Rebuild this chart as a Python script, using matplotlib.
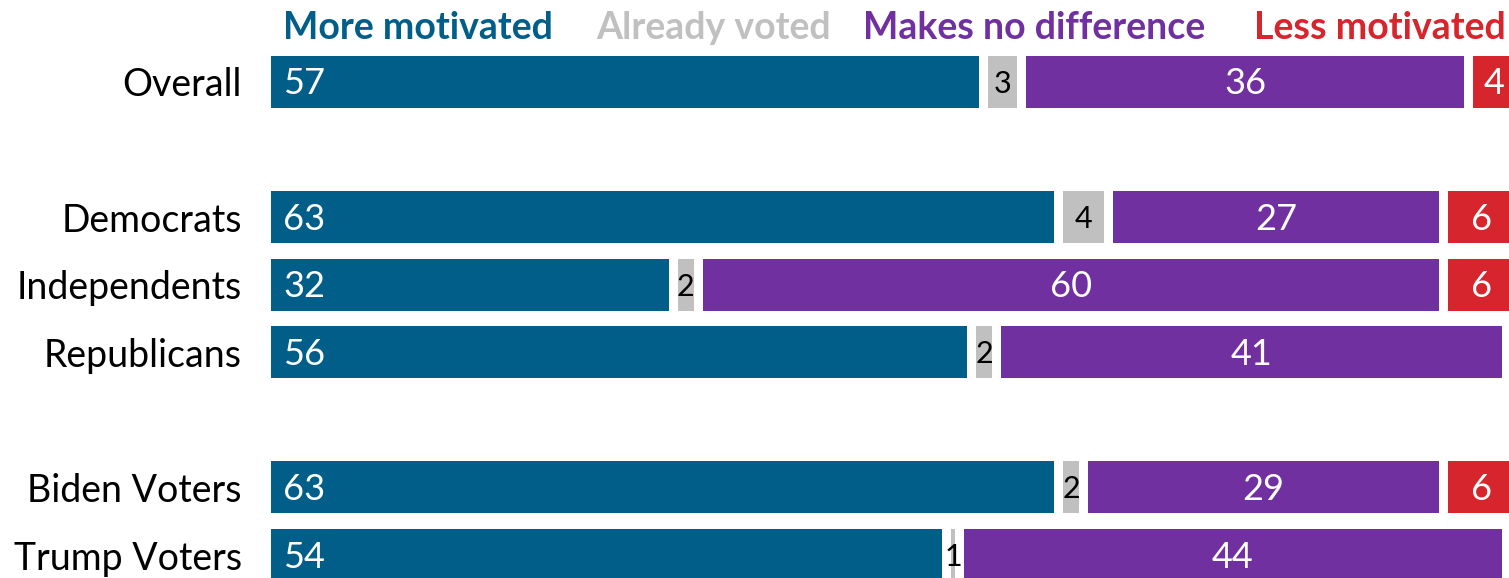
import matplotlib.pyplot as plt
import numpy as np

plt.rcParams['font.family'] = ['Lato', 'DejaVu Sans']

groups = ['Overall', 'Democrats', 'Independents', 'Republicans', 'Biden Voters', 'Trump Voters']
rows = [0, 2, 3, 4, 6, 7]
series = ['More motivated', 'Already voted', 'Makes no difference', 'Less motivated']
more = [57, 63, 32, 56, 63, 54]
voted = [3, 4, 2, 2, 2, 1]
nodiff = [36, 27, 60, 41, 29, 44]
less = [4, 6, 6, 1, 6, 1]

colors = ['#005e89', '#c0c0c0', '#7030a0', '#d6252c']
text_colors = ['white', 'black', 'white', 'white']

fig = plt.figure(figsize=(15.09, 5.78), dpi=100)
ax = fig.add_axes([271 / 1509, 0, 1 - 271 / 1509, 1])

gap = 0.72
h = 0.77
left = np.zeros(len(groups))
for i, vals in enumerate([more, voted, nodiff, less]):
    vals = np.array(vals, dtype=float)
    off = 0 if i == 0 else gap
    ax.barh(rows, vals - off, left=left + off, height=h, color=colors[i], clip_on=True)
    for r, l, v in zip(rows, left, vals):
        if i == 0:
            ax.text(l + 1.0, r + 0.03, f'{int(v)}', color=text_colors[i], fontsize=26,
                    ha='left', va='center')
        elif not (i == 3 and v < 2):
            ax.text(l + off + (v - off) / 2, r + 0.03, f'{int(v)}', color=text_colors[i],
                    fontsize=26 if i != 1 else 22, ha='center', va='center', clip_on=True)
    left += vals

# legend as coloured headers
header_x = [11.8, 35.6, 61.4, 89.2]
for name, x, c in zip(series, header_x, colors):
    ax.text(x, -0.80, name, color=c, fontsize=27, fontweight='bold', ha='center', va='center')

ax.set_xlim(0, 99.6)
ax.set_ylim(7.34, -1.21)
ax.set_yticks(rows)
ax.set_yticklabels(groups, fontsize=27)
ax.tick_params(axis='y', length=0, pad=21)
ax.set_xticks([])
for s in ax.spines.values():
    s.set_visible(False)

fig.savefig('out.png', dpi=100)
